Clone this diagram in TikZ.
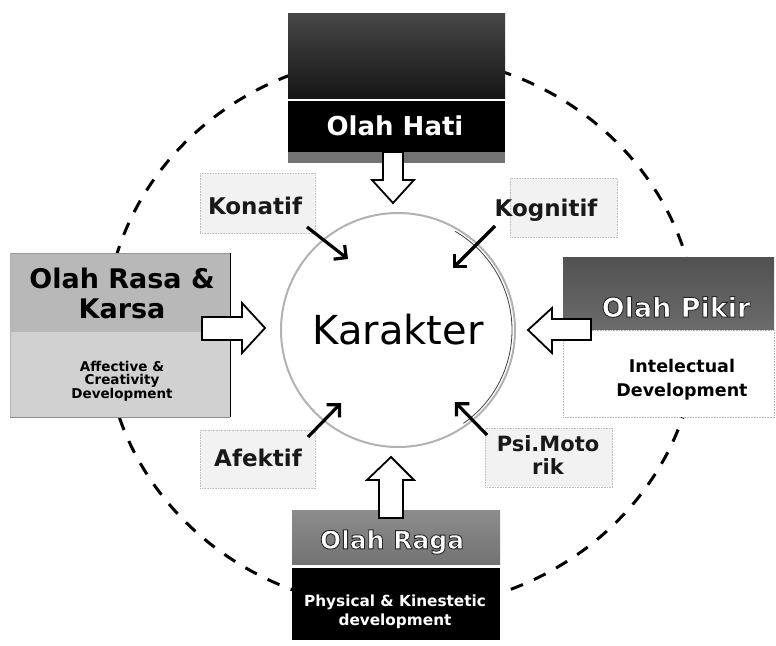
\documentclass[tikz,border=0pt]{standalone}
\usepackage{fontspec}
\setmainfont{DejaVu Sans}
\usetikzlibrary{arrows.meta}

% white lettering with a dark stroked outline (PDF text render mode 2)
\newcommand{\outlined}[1]{\special{pdf:code 0.15 0.15 0.15 RG 0.9 w 2 Tr}#1\special{pdf:code 0 Tr}}

\tikzset{
  ring/.style={line width=3pt, dash pattern=on 13pt off 12pt},
  blockarrow/.style={draw=black, line width=1.8pt, fill=white, line join=miter},
  ptr/.style={line width=3.2pt, -{Straight Barb[length=9pt,width=18pt]}},
  panel/.style={inner sep=0pt, anchor=north west},
  tagbg/.style={inner sep=0pt, anchor=north west, fill=black!5, draw=black!25, densely dotted, line width=0.6pt},
  lbl/.style={font=\bfseries\fontsize{23}{23}\selectfont, text=black!90, inner sep=0pt},
  title/.style={font=\bfseries\fontsize{26}{30}\selectfont, inner sep=0pt, align=center},
  sub/.style={font=\bfseries\fontsize{13.5}{13.5}\selectfont, inner sep=0pt, align=center},
}

\begin{document}
\begin{tikzpicture}[x=1pt, y=-1pt]
\useasboundingbox (0,0) rectangle (776,645);
\fill[white] (0,0) rectangle (776,645);

% outer dashed orbit
\draw[ring] (401,332) ellipse [x radius=296, y radius=277];

% faint label backgrounds
\node[tagbg, minimum width=115pt, minimum height=60pt] (konBg) at (200,173) {};
\node[tagbg, minimum width=107pt, minimum height=59pt] (kogBg) at (510,178) {};
\node[tagbg, minimum width=115pt, minimum height=58pt] (afeBg) at (200,430) {};
\node[tagbg, minimum width=127pt, minimum height=59pt] (psiBg) at (485,428) {};

% central circle
\node[circle, minimum size=232pt, inner sep=0pt] (kar) at (398,330) {};
\draw[black!30, line width=2pt] (kar.center) circle [radius=117];
\draw[black!75, line width=0.8pt] (kar.center) ++(55:114) arc [start angle=55, end angle=-60, radius=114];
\node[font=\fontsize{40}{44}\selectfont, inner sep=0pt] (kartext) at (kar.center) {Karakter};

% Olah Hati (top)
\node[panel, minimum width=217pt, minimum height=86pt, top color=black!72, bottom color=black!92] (hatiTop) at (288,13) {};
\node[panel, minimum width=217pt, minimum height=2pt, fill=white] (hatiLine) at (288,99) {};
\node[panel, minimum width=217pt, minimum height=51pt, fill=black] (hatiMid) at (288,101) {};
\node[panel, minimum width=217pt, minimum height=11pt, fill=black!55] (hatiFoot) at (288,152) {};
\node[title, text=white] (hati) at (395,126) {Olah Hati};

% Olah Rasa & Karsa (left)
\node[panel, minimum width=220pt, minimum height=79pt, fill=black!28] (rasaTop) at (10,253) {};
\node[panel, minimum width=220pt, minimum height=85pt, fill=black!18] (rasaLow) at (10,332) {};
\draw[black!40, line width=0.5pt] (rasaTop.north west) -- (rasaTop.north east);
\draw[black!45, line width=0.5pt] (rasaLow.south west) -- (rasaLow.south east);
\draw[black!30, line width=0.5pt] (rasaTop.north west) -- (rasaLow.south west);
\draw[black, line width=1.2pt] (rasaTop.north east) -- (rasaLow.south east);
\node[title, text=black, font=\bfseries\fontsize{27}{30}\selectfont] (rasa) at (122,293) {Olah Rasa \&\\Karsa};
\node[sub, text=black] (rasaSub) at (122,381) {Affective \&\\Creativity\\Development};

% Olah Pikir (right)
\node[panel, minimum width=211pt, minimum height=73pt, top color=black!68, bottom color=black!58] (pikirTop) at (563,257) {};
\node[panel, minimum width=211pt, minimum height=87pt, fill=white, draw=black!30, densely dotted, line width=0.6pt] (pikirLow) at (563,330) {};
\node[title, text=white, font=\bfseries\fontsize{27}{30}\selectfont] (pikir) at (676,307) {\outlined{Olah Pikir}};
\node[sub, text=black, font=\bfseries\fontsize{17.5}{24}\selectfont] (pikirSub) at (682,380) {Intelectual\\Development};

% Olah Raga (bottom)
\node[panel, minimum width=208pt, minimum height=55pt, top color=black!45, bottom color=black!55] (ragaTop) at (292,510) {};
\node[panel, minimum width=208pt, minimum height=3pt, fill=white] (ragaLine) at (292,565) {};
\node[panel, minimum width=208pt, minimum height=72pt, fill=black] (ragaLow) at (292,568) {};
\node[title, text=white, font=\bfseries\fontsize{25}{30}\selectfont] (raga) at (392,542) {\outlined{Olah Raga}};
\node[sub, text=white, font=\bfseries\fontsize{15.3}{19}\selectfont] (ragaSub) at (395,612) {Physical \& Kinestetic\\development};

% hollow block arrows into the centre
\coordinate (hatiOut) at (393,152);
\draw[blockarrow] (hatiOut) ++(-10,0) -- ++(0,28) -- ++(-11,0) -- (393,203) -- (414,180) -- ++(-11,0) -- ++(0,-28) -- cycle;

\coordinate (ragaOut) at (391,518);
\draw[blockarrow] (ragaOut) ++(-12,0) -- ++(0,-38) -- ++(-12,0) -- (391,457) -- (414,480) -- ++(-11,0) -- ++(0,38) -- cycle;

\coordinate (rasaOut) at (202,328);
\draw[blockarrow] (rasaOut) ++(0,-11) -- ++(40,0) -- ++(0,-14) -- (265,328) -- (242,353) -- ++(0,-13) -- ++(-40,0) -- cycle;

\coordinate (pikirOut) at (591,330);
\draw[blockarrow] (pikirOut) ++(0,-11) -- ++(-39,0) -- ++(0,-11) -- (528,330) -- (552,353) -- ++(0,-13) -- ++(39,0) -- cycle;

% aspect labels with pointers
\node[lbl] (konatif) at (255,206) {Konatif};
\node[lbl] (kognitif) at (546,210) {Kognitif};
\node[lbl] (afektif) at (258,458) {Afektif};
\node[lbl, align=center, font=\bfseries\fontsize{21}{23}\selectfont] (psi) at (548,455) {Psi.Moto\\rik};

\coordinate (konTail) at (307,227);  \coordinate (konHead) at (348,259);
\coordinate (kogTail) at (495,226);  \coordinate (kogHead) at (453,268);
\coordinate (afeTail) at (308,437);  \coordinate (afeHead) at (341,403);
\coordinate (psiTail) at (487,435);  \coordinate (psiHead) at (455,402);
\draw[ptr] (konTail) -- (konHead);
\draw[ptr] (kogTail) -- (kogHead);
\draw[ptr] (afeTail) -- (afeHead);
\draw[ptr] (psiTail) -- (psiHead);
\end{tikzpicture}
\end{document}
